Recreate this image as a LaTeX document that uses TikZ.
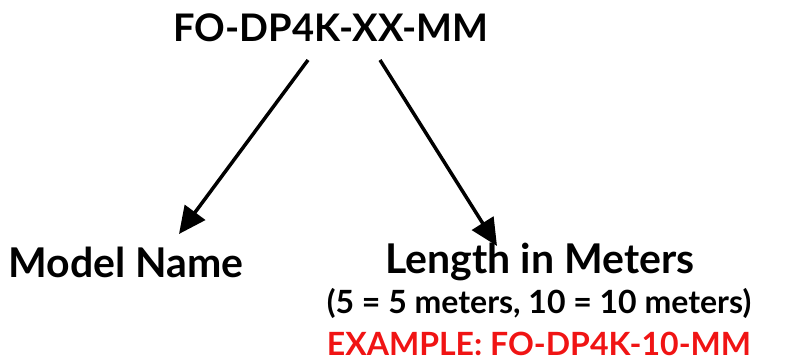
\documentclass[tikz,border=0pt]{standalone}
\usepackage{fontspec}
\setmainfont{Lato}
\usetikzlibrary{positioning, arrows.meta}
\definecolor{examplered}{RGB}{240,20,20}
\tikzset{
  big/.style={font=\bfseries\fontsize{38}{44}\selectfont, inner sep=0pt},
  label/.style={font=\bfseries\fontsize{41}{48}\selectfont, inner sep=0pt},
  small/.style={font=\bfseries\fontsize{32}{38}\selectfont, inner sep=0pt},
  arr/.style={line width=3.5pt, -{Triangle[length=27pt, width=25pt]}}
}
\begin{document}
\begin{tikzpicture}[x=1pt, y=-1pt]
\useasboundingbox (0,0) rectangle (785,364);

%Nodes
\node (code) at (331,28) [big] {FO-DP4K-XX-MM};
\node (model) at (126,262) [label] {Model Name};
\node (length) at (540,262) [label] {Length in Meters};
\node (meters) at (539,303) [small] {(5 = 5 meters, 10 = 10 meters)};
\node (example) at (539,344) [small, text=examplered] {EXAMPLE: FO-DP4K-10-MM};

\coordinate (codeL) at (308,60);
\coordinate (codeR) at (380,60);
\coordinate (modelTop) at (179,234);
\coordinate (lengthTop) at (497,246);

\draw[arr] (codeL) to (modelTop);
\draw[arr] (codeR) to (lengthTop);

\end{tikzpicture}
\end{document}
